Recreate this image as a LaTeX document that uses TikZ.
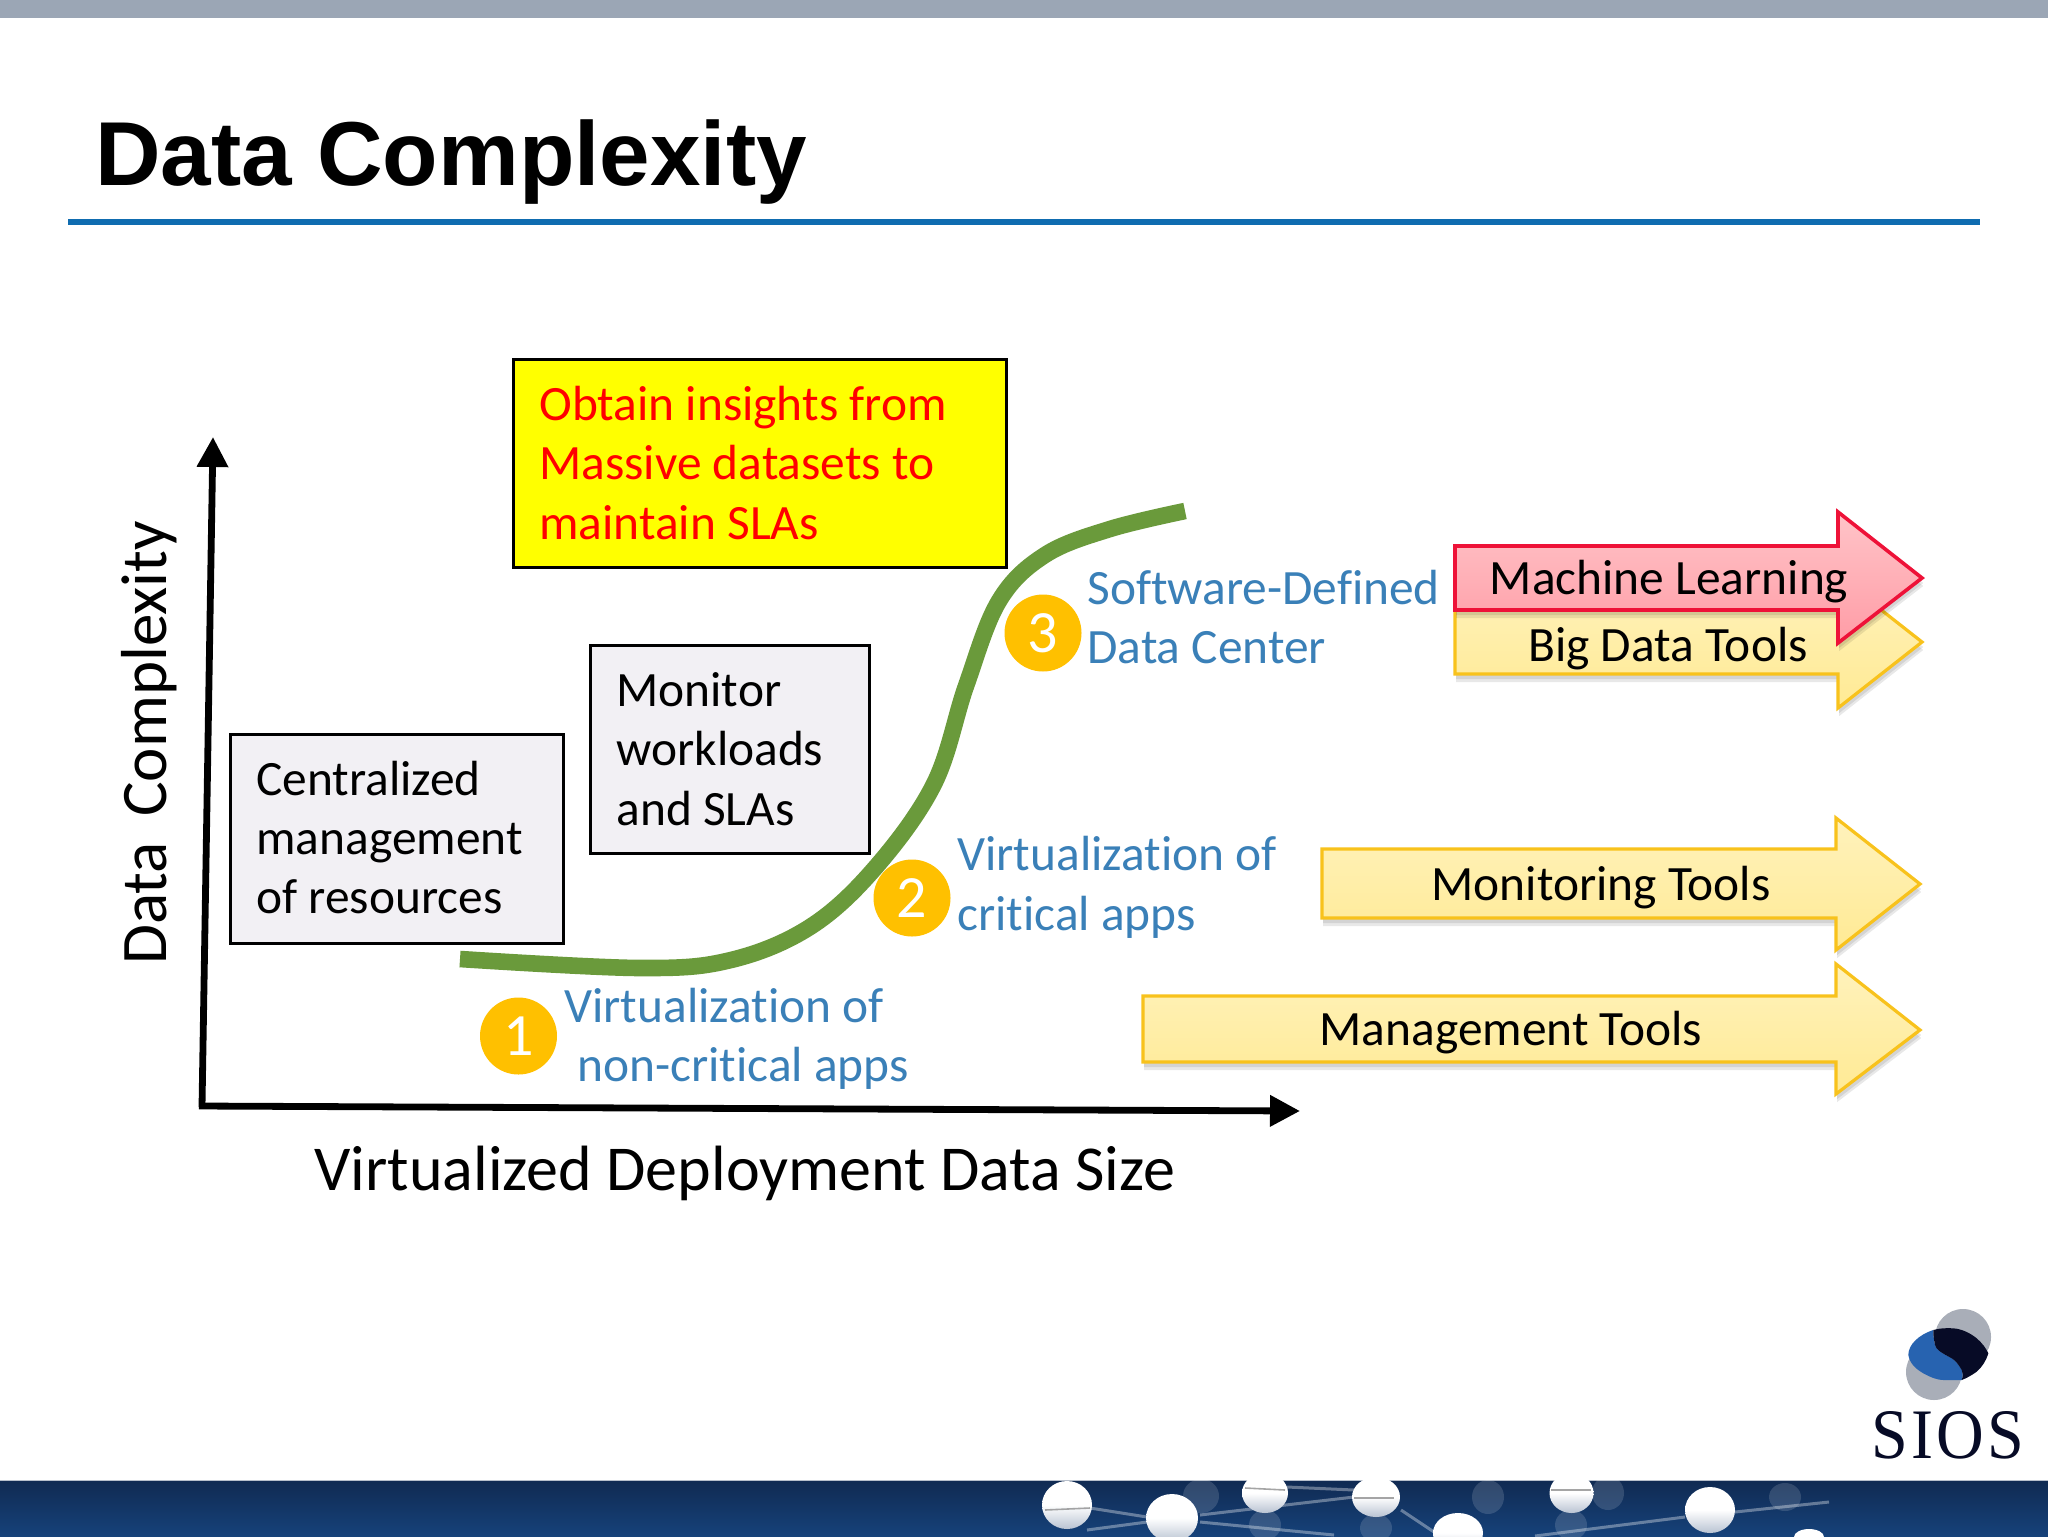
\documentclass[tikz,border=0pt]{standalone}
\usepackage{fontspec}
\setmainfont[Ligatures=NoCommon]{Carlito}
\newfontfamily\titlefont{Liberation Sans}
\newfontfamily\logofont[LetterSpace=5]{Liberation Serif}
\usetikzlibrary{arrows.meta}
\definecolor{barcol}{HTML}{9BA6B5}
\definecolor{rulecol}{HTML}{0F6CB0}
\definecolor{boxcol}{HTML}{F2F0F4}
\definecolor{labelblue}{HTML}{3A80B8}
\definecolor{curvecol}{HTML}{6A9A3B}
\definecolor{badgecol}{HTML}{FFC000}
\definecolor{yellowedge}{HTML}{F8C21C}
\definecolor{rededge}{HTML}{EE1238}
\definecolor{pureyellow}{HTML}{FFFF00}
\definecolor{purered}{HTML}{FF0000}
\definecolor{ytop}{HTML}{FFF2BC}
\definecolor{ybot}{HTML}{FFEA94}
\definecolor{rtop}{HTML}{FFC4C8}
\definecolor{rbot}{HTML}{FF9CA6}
\definecolor{navytop}{HTML}{102A52}
\definecolor{navybot}{HTML}{16427A}
\definecolor{logodark}{HTML}{070B26}
\definecolor{logoblue}{HTML}{2763B0}
\definecolor{logogray}{HTML}{A9AEB8}
\definecolor{balledge}{HTML}{B9C3D2}
\tikzset{
  x=0.5pt,y=-0.5pt,
  bodytext/.style={font=\fontsize{24.7}{29.7}\selectfont,align=left,anchor=west,inner sep=0pt},
  infobox/.style={draw=black,line width=1.5pt},
  graybox/.style={infobox,fill=boxcol},
  bluelabel/.style={bodytext,text=labelblue},
  badge/.style={circle,fill=badgecol,text=white,minimum size=38.5pt,inner sep=0pt,font=\fontsize{30}{30}\selectfont},
  arrowlabel/.style={font=\fontsize{24.7}{29}\selectfont,inner sep=0pt,anchor=center},
  axislabel/.style={font=\fontsize{32}{36}\selectfont,inner sep=0pt,anchor=center},
  axisline/.style={line width=3.4pt,-{Triangle[length=15pt,width=15pt]}},
  yellowarrow/.style={draw=yellowedge,line width=1.6pt,line join=miter,top color=ytop,bottom color=ybot},
  redarrow/.style={draw=rededge,line width=1.8pt,line join=miter,top color=rtop,bottom color=rbot},
  softshadow/.style={fill=black,opacity=0.09},
  glow/.style={top color=white,bottom color=balledge,middle color=white},
  ghost/.style={fill=white,opacity=0.14},
  strand/.style={draw=white,opacity=0.35,line width=1.5pt},
  band/.style={draw=gray,opacity=0.7,line width=0.8pt},
}
% left, body top, body bottom, head x, head top, tip x, tip y, head bottom, style
\newcommand{\fatarrowpath}[8]{(#1,#2) -- (#4,#2) -- (#4,#5) -- (#6,#7) -- (#4,#8) -- (#4,#3) -- (#1,#3) -- cycle}
\newcommand{\fatarrow}[9]{%
  \fill[softshadow,shift={(0.6pt,-4pt)}] \fatarrowpath{#1}{#2}{#3}{#4}{#5}{#6}{#7}{#8};
  \fill[softshadow,shift={(0.6pt,-2.5pt)}] \fatarrowpath{#1}{#2}{#3}{#4}{#5}{#6}{#7}{#8};
  \path[#9] \fatarrowpath{#1}{#2}{#3}{#4}{#5}{#6}{#7}{#8};
}
\begin{document}
\begin{tikzpicture}
\useasboundingbox (0,0) rectangle (2048,1536);
\fill[white] (0,0) rectangle (2048,1536);
% top bar and title
\fill[barcol] (0,0) rectangle (2048,18);
\node[anchor=base west,inner sep=0pt,font=\titlefont\bfseries\fontsize{45.4}{50}\selectfont] (title) at (95,185) {Data Complexity};
\fill[rulecol] (68,219) rectangle (1980,225);

% axes
\coordinate (origin) at (202,1107);
\coordinate (ytip) at (213,437);
\coordinate (xorigin) at (199,1106);
\coordinate (xend) at (1300,1111);
\draw[axisline] (origin) -- (ytip);
\draw[axisline] (xorigin) -- (xend);
\node[axislabel,rotate=90,font=\fontsize{32.5}{36}\selectfont] (ylabel) at (149,743) {Data\, Complexity};
\node[axislabel] (xlabel) at (745,1173) {Virtualized Deployment Data Size};

% S curve
\draw[curvecol,line width=8.3pt] plot[smooth,tension=0.6] coordinates {(460,959) (640,968) (731,960) (810,927) (875,868) (934,784) (966,686) (999,601) (1045,555) (1110,529) (1185,511)};

% boxes
\fill[pureyellow,draw=black,line width=1.5pt] (513,359) rectangle (1006,567);
\node[bodytext,text=purered] (insights) at (539,463) {Obtain insights from\\Massive datasets to\\maintain SLAs};
\path[graybox] (590,645) rectangle (869,853);
\node[bodytext] (monitor) at (616,749) {Monitor\\workloads\\and SLAs};
\path[graybox] (230,734) rectangle (563,943);
\node[bodytext] (central) at (256,837.5) {Centralized\\management\\of resources};

% badges and labels
\node[badge] (one) at (518.5,1036) {1};
\node[badge] (two) at (912,898) {2};
\node[badge] (three) at (1043,633) {3};
\node[bluelabel] (lone) at (564,1039) {Virtualization of\\\hspace*{6.5pt}non-critical apps};
\node[bluelabel] (ltwo) at (957,887.5) {Virtualization of\\critical apps};
\node[bluelabel] (lthree) at (1087,617) {Software-Defined\\Data Center};

% tool arrows
\fatarrow{1455}{610}{674}{1838}{576}{1922}{642}{708}{yellowarrow}
\fatarrow{1455}{546}{610}{1838}{512}{1922}{578}{643}{redarrow}
\fatarrow{1322}{849}{918}{1836}{818}{1920}{884}{950}{yellowarrow}
\fatarrow{1143}{996}{1062}{1836}{964}{1920}{1030}{1094}{yellowarrow}
\node[arrowlabel] (ml) at (1669,582) {Machine Learning};
\node[arrowlabel] (bd) at (1668,649) {Big Data Tools};
\node[arrowlabel] (mon) at (1601,888) {Monitoring Tools};
\node[arrowlabel] (mgt) at (1511,1033) {Management Tools};

% logo
\fill[logogray] (1963,1337) circle [radius=28];
\fill[logogray] (1934,1372) circle [radius=28];
\fill[logoblue] (1933.3,1330) .. controls (1918,1335) and (1908.3,1345) .. (1908.3,1355) .. controls (1910,1364) and (1916,1369) .. (1923.3,1373.3) .. controls (1932,1378) and (1938,1380) .. (1943.3,1380) -- (1961.7,1380) .. controls (1963,1376) and (1963,1373) .. (1961.7,1370) .. controls (1958,1364) and (1956,1361) .. (1951.7,1358.3) .. controls (1942,1353) and (1936,1350) .. (1935,1345) .. controls (1934,1340) and (1933,1335) .. cycle;
\fill[logodark] (1933.3,1330) .. controls (1940,1328) and (1947,1328) .. (1953.3,1328.3) .. controls (1962,1329) and (1970,1333) .. (1976.7,1338.3) .. controls (1982,1343) and (1986,1348) .. (1988.3,1353.3) .. controls (1986,1361) and (1982,1367) .. (1976.7,1371.7) .. controls (1972,1375) and (1967,1378) .. (1961.7,1380) .. controls (1963,1376) and (1963,1373) .. (1961.7,1370) .. controls (1958,1364) and (1956,1361) .. (1951.7,1358.3) .. controls (1942,1353) and (1936,1350) .. (1935,1345) .. controls (1934,1340) and (1933,1335) .. cycle;
\node[anchor=base,inner sep=0pt,text=logodark,xscale=0.93,transform shape,font=\logofont\fontsize{35.5}{36}\selectfont] (sios) at (1948,1458) {SIOS};

% footer band
\begin{scope}
\clip (0,1480) rectangle (2048,1536);
\shade[top color=navytop,bottom color=navybot] (0,1480) rectangle (2048,1536);
\fill[white,opacity=0.7] (0,1480) rectangle (2048,1481);
\draw[strand] (1090,1508) -- (1147,1517);
\draw[strand] (1087,1530) -- (1147,1522);
\draw[strand] (1200,1515) -- (1354,1497);
\draw[strand] (1200,1522) -- (1334,1535);
\draw[strand] (1287,1487) -- (1354,1490);
\draw[strand] (1401,1510) -- (1434,1532);
\draw[strand] (1535,1536) -- (1685,1517);
\draw[strand] (1735,1512) -- (1829,1502);
\fill[ghost] (1201,1496) ellipse [x radius=18,y radius=17];
\fill[ghost] (1488,1497) ellipse [x radius=16,y radius=17];
\fill[ghost] (1608,1493) ellipse [x radius=16,y radius=17];
\fill[ghost] (1785,1497) ellipse [x radius=16,y radius=14];
\fill[ghost] (1265,1525) ellipse [x radius=16,y radius=15];
\fill[ghost] (1376,1528) ellipse [x radius=16,y radius=14];
\fill[ghost] (1571,1525) ellipse [x radius=16,y radius=15];
\shade[glow] (1067,1505) ellipse [x radius=25,y radius=24];
\shade[glow] (1172,1518) ellipse [x radius=26,y radius=24];
\shade[glow] (1265,1493) ellipse [x radius=23,y radius=20];
\shade[glow] (1376,1497) ellipse [x radius=24,y radius=20];
\shade[glow] (1458,1533) ellipse [x radius=25,y radius=20];
\shade[glow] (1571.5,1493) ellipse [x radius=22,y radius=20];
\shade[glow] (1710,1510) ellipse [x radius=25,y radius=23];
\shade[glow] (1809,1537) ellipse [x radius=15,y radius=8];
\draw[band] (1045,1510) -- (1090,1508);
\draw[band] (1245,1488) -- (1285,1490);
\draw[band] (1354,1498) -- (1394,1498);
\draw[band] (1551,1490) -- (1591,1490);
\end{scope}
\end{tikzpicture}
\end{document}
